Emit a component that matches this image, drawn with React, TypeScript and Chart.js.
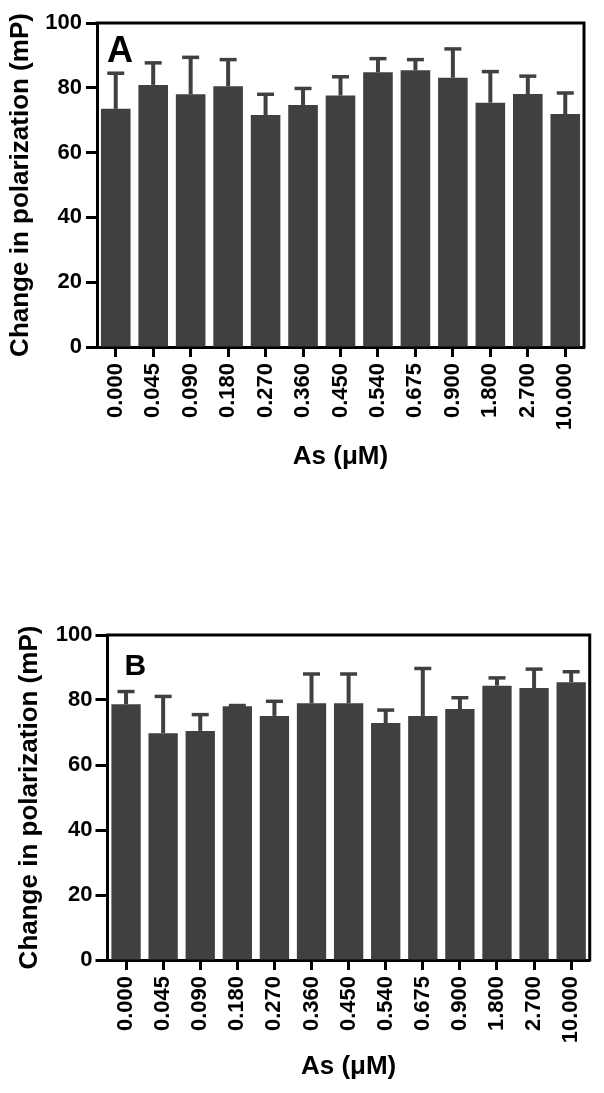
import React, { useEffect, useRef } from "react";
import { Chart, registerables } from "chart.js";

Chart.register(...registerables);

const categories = ["0.000", "0.045", "0.090", "0.180", "0.270", "0.360", "0.450", "0.540", "0.675", "0.900", "1.800", "2.700", "10.000"];
const meansA = [73.5, 80.9, 78.0, 80.5, 71.6, 74.7, 77.6, 84.8, 85.4, 83.1, 75.4, 78.1, 71.9];
const errorsA = [11.0, 6.8, 11.4, 8.2, 6.4, 5.1, 5.8, 4.2, 3.3, 8.9, 9.6, 5.5, 6.5];
const meansB = [78.7, 69.8, 70.5, 78.1, 75.1, 79.0, 79.0, 72.9, 75.1, 77.2, 84.4, 83.7, 85.5];
const errorsB = [3.9, 11.3, 5.0, 0.2, 4.5, 9.0, 9.0, 4.0, 14.6, 3.5, 2.4, 5.8, 3.2];
const yTicks = [0, 20, 40, 60, 80, 100];
const yTitle = "Change in polarization (mP)";
const xTitle = "As (\u03BCM)";

const FONT = "'Liberation Sans', Arial, Helvetica, sans-serif";
const BAR = "#404040";

type PanelCfg = {
  letter: string;
  letterSize: number;
  letterDx: number;
  letterDy: number;
  means: number[];
  errors: number[];
  width: number;
  height: number;
  padTop: number;
  padRight: number;
  yWidth: number;
  xHeight: number;
  yTitlePad: number;
  xTitlePad: number;
  yTickLen: number;
  yTickPad: number;
};

function makeChart(canvas: HTMLCanvasElement, cfg: PanelCfg) {
  const errorPlugin = {
    id: "errs" + cfg.letter,
    afterDatasetsDraw(chart: any) {
      const ctx = chart.ctx;
      const meta = chart.getDatasetMeta(0);
      const ys = chart.scales.y;
      ctx.save();
      ctx.strokeStyle = BAR;
      meta.data.forEach((bar: any, i: number) => {
        const x = bar.x;
        const yTop = ys.getPixelForValue(cfg.means[i] + cfg.errors[i]);
        const yMean = ys.getPixelForValue(cfg.means[i]);
        ctx.lineWidth = 4;
        ctx.beginPath();
        ctx.moveTo(x, yMean);
        ctx.lineTo(x, yTop);
        ctx.stroke();
        ctx.lineWidth = 3.5;
        ctx.beginPath();
        ctx.moveTo(x - 8.5, yTop);
        ctx.lineTo(x + 8.5, yTop);
        ctx.stroke();
      });
      ctx.restore();
    },
    afterDraw(chart: any) {
      const ctx = chart.ctx;
      const a = chart.chartArea;
      ctx.save();
      ctx.strokeStyle = "#000";
      ctx.lineWidth = 3;
      ctx.lineJoin = "miter";
      ctx.lineCap = "square";
      ctx.beginPath();
      ctx.moveTo(a.left, a.top);
      ctx.lineTo(a.right, a.top);
      ctx.lineTo(a.right, a.bottom);
      ctx.stroke();
      ctx.fillStyle = "#000";
      ctx.font = `bold ${cfg.letterSize}px ${FONT}`;
      ctx.textBaseline = "alphabetic";
      ctx.textAlign = "left";
      ctx.fillText(cfg.letter, a.left + cfg.letterDx, a.top + cfg.letterDy);
      ctx.restore();
    },
  };

  return new Chart(canvas, {
    type: "bar",
    data: {
      labels: categories,
      datasets: [
        {
          data: cfg.means,
          backgroundColor: BAR,
          borderWidth: 0,
          barPercentage: 0.79,
          categoryPercentage: 1,
        },
      ],
    },
    options: {
      responsive: false,
      animation: false,
      devicePixelRatio: 1,
      layout: { padding: { left: 0, top: cfg.padTop, right: cfg.padRight, bottom: 0 } },
      plugins: { legend: { display: false }, tooltip: { enabled: false } },
      scales: {
        x: {
          z: 1,
          offset: true,
          grid: {
            offset: false,
            drawOnChartArea: false,
            drawTicks: true,
            tickLength: 10,
            tickColor: "#000",
            tickWidth: 3,
          },
          border: { display: true, color: "#000", width: 3 },
          ticks: {
            autoSkip: false,
            minRotation: 90,
            maxRotation: 90,
            padding: 6,
            color: "#000",
            font: { family: FONT, size: 22, weight: "bold" },
          },
          title: {
            display: true,
            text: xTitle,
            color: "#000",
            font: { family: FONT, size: 26, weight: "bold" },
            padding: { top: 0, bottom: cfg.xTitlePad },
          },
          afterFit: (s: any) => {
            s.height = cfg.xHeight;
          },
        },
        y: {
          z: 1,
          min: yTicks[0],
          max: yTicks[yTicks.length - 1],
          ticks: {
            stepSize: yTicks[1] - yTicks[0],
            padding: cfg.yTickPad,
            color: "#000",
            font: { family: FONT, size: 22, weight: "bold" },
          },
          grid: {
            drawOnChartArea: false,
            drawTicks: true,
            tickLength: cfg.yTickLen,
            tickColor: "#000",
            tickWidth: 3,
          },
          border: { display: true, color: "#000", width: 3 },
          title: {
            display: true,
            text: yTitle,
            color: "#000",
            font: { family: FONT, size: 26, weight: "bold" },
            padding: { top: cfg.yTitlePad, bottom: 0 },
          },
          afterFit: (s: any) => {
            s.width = cfg.yWidth;
          },
        },
      },
    } as any,
    plugins: [errorPlugin],
  });
}

const cfgA: PanelCfg = {
  letter: "A",
  letterSize: 36,
  letterDx: 10,
  letterDy: 39,
  means: meansA,
  errors: errorsA,
  width: 604,
  height: 480,
  padTop: 23,
  padRight: 20,
  yWidth: 97,
  xHeight: 133,
  yTitlePad: 5,
  xTitlePad: 8,
  yTickLen: 11,
  yTickPad: 4,
};

const cfgB: PanelCfg = {
  letter: "B",
  letterSize: 30,
  letterDx: 17,
  letterDy: 40,
  means: meansB,
  errors: errorsB,
  width: 604,
  height: 493,
  padTop: 35,
  padRight: 11,
  yWidth: 107.5,
  xHeight: 133,
  yTitlePad: 14,
  xTitlePad: 11,
  yTickLen: 12,
  yTickPad: 3,
};

function Panel({ cfg, top }: { cfg: PanelCfg; top: number }) {
  const ref = useRef<HTMLCanvasElement>(null);
  useEffect(() => {
    if (!ref.current) return;
    const chart = makeChart(ref.current, cfg);
    return () => chart.destroy();
  }, [cfg]);
  return (
    <canvas
      ref={ref}
      width={cfg.width}
      height={cfg.height}
      style={{ position: "absolute", left: 0, top, width: cfg.width, height: cfg.height }}
    />
  );
}

export default function App() {
  return (
    <div style={{ position: "absolute", left: 0, top: 0, width: 604, height: 1093, background: "#fff" }}>
      <Panel cfg={cfgA} top={0} />
      <Panel cfg={cfgB} top={600} />
    </div>
  );
}
